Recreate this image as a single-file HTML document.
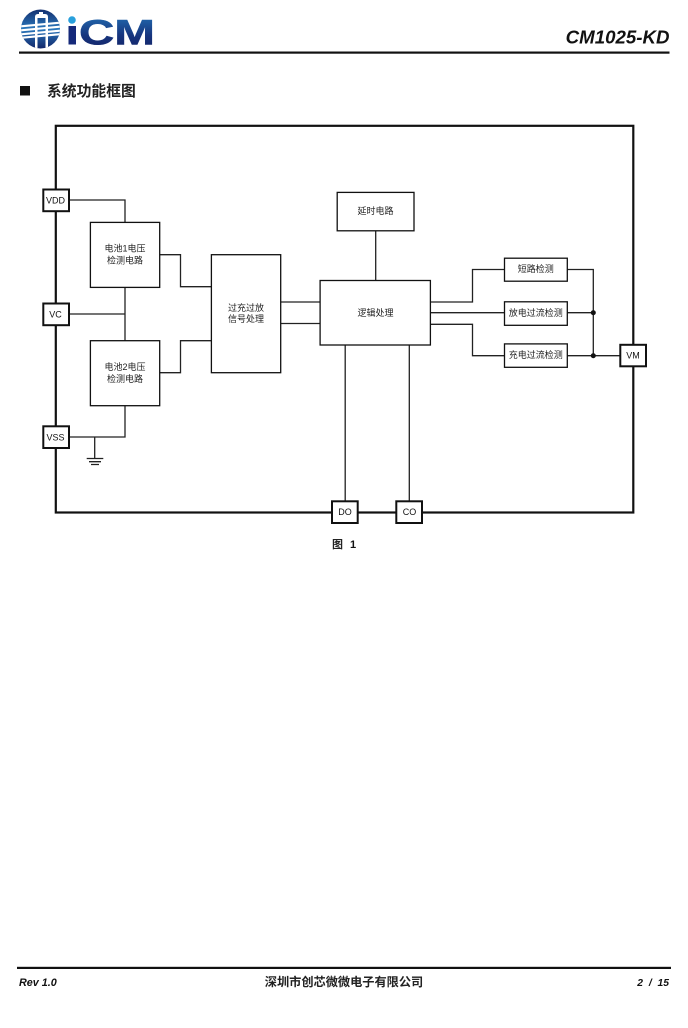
<!DOCTYPE html>
<html>
<head>
<meta charset="utf-8">
<style>
html,body{margin:0;padding:0;background:#fff;width:688px;height:1028px;overflow:hidden}
svg{display:block}
text{font-family:"Liberation Sans","Noto Sans CJK SC",sans-serif}
.l{font-size:9px;fill:#222;text-anchor:middle}
.p{font-size:9px;fill:#111;text-anchor:middle}
.b{fill:#fff;stroke:#111;stroke-width:1.3}
.pin{fill:#fff;stroke:#111;stroke-width:2}
.w{fill:none;stroke:#222;stroke-width:1.3}
</style>
</head>
<body>
<svg width="688" height="1028" viewBox="0 0 688 1028" xmlns="http://www.w3.org/2000/svg">
<defs>
<linearGradient id="g" x1="0" y1="0" x2="0" y2="1">
<stop offset="0" stop-color="#14306f"/>
<stop offset=".5" stop-color="#2a78bd"/>
<stop offset="1" stop-color="#12276a"/>
</linearGradient>
<linearGradient id="t" x1="0" y1="0" x2="0" y2="1">
<stop offset="0" stop-color="#2370b4"/>
<stop offset=".55" stop-color="#17367f"/>
<stop offset="1" stop-color="#121f63"/>
</linearGradient>
<clipPath id="c"><circle cx="40.500" cy="29" r="19.500"/></clipPath>
</defs>

<!-- logo -->
<circle cx="40.500" cy="29" r="19.500" fill="url(#g)"/>
<g clip-path="url(#c)">
<path d="M35 49V17q0-3 3-3h1v-2h4v2h2q3 0 3 3v32h-2.500V18H37.500v31z" fill="#fff"/>
<g stroke="#fff" stroke-width="2" fill="none">
<path d="M19 26.500L62 22.500"/><path d="M19 30.500L62 26.500"/><path d="M19 34.500L62 30.500"/><path d="M19 38L62 34"/>
</g>
</g>
<circle cx="72" cy="20" r="3.800" fill="#29a0dc"/>
<rect x="68.500" y="26" width="7.500" height="18.500" fill="#15297a"/>
<text x="79" y="44.500" font-size="35" font-weight="bold" textLength="76" lengthAdjust="spacingAndGlyphs" fill="url(#t)" stroke="url(#t)" stroke-width=".6">CM</text>

<!-- header -->
<text x="669.500" y="43.500" font-size="18.700" font-weight="bold" font-style="italic" text-anchor="end" fill="#111">CM1025-KD</text>
<rect x="19" y="51.500" width="650.500" height="2.200" fill="#111"/>

<!-- title -->
<rect x="20" y="86" width="10" height="9.500" fill="#111"/>
<text x="47" y="96" font-size="14.800" font-weight="bold" fill="#222">系统功能框图</text>

<!-- frame -->
<rect x="55.800" y="125.800" width="577.500" height="386.700" fill="none" stroke="#111" stroke-width="2.200"/>

<!-- wires -->
<path class="w" d="M69 200H125V222M69 314H125M125 287.500V341M69 437H125V405.500"/>
<path class="w" d="M160 254.700H180.500V286.700H211M160 372.700H180.500V340.700H211"/>
<path class="w" d="M281 302H320M281 323.500H320M375.700 231V280.500"/>
<path class="w" d="M430 302H472.500V269.500H504.500M430 312.700H504.500M430 324.300H472.500V355.700H504.500"/>
<path class="w" d="M567 269.500H593.300V355.700M567 312.700H593.300M567 355.700H620"/>
<path class="w" d="M345.200 345V501M409.300 345V501"/>
<circle cx="593.300" cy="312.700" r="2.500" fill="#111"/>
<circle cx="593.300" cy="355.700" r="2.500" fill="#111"/>
<!-- ground -->
<path class="w" d="M94.700 437V458.500M86.700 458.500H103.300M89 461.700H101M91 464.500H99"/>

<!-- boxes -->
<rect class="b" x="90.400" y="222.400" width="69.300" height="65"/>
<rect class="b" x="90.400" y="340.700" width="69.300" height="65"/>
<rect class="b" x="211.400" y="254.700" width="69.300" height="118"/>
<rect class="b" x="320.100" y="280.500" width="110.300" height="64.500"/>
<rect class="b" x="337.200" y="192.400" width="76.800" height="38.400"/>
<rect class="b" x="504.500" y="258.200" width="62.800" height="23"/>
<rect class="b" x="504.500" y="301.800" width="62.800" height="23.500"/>
<rect class="b" x="504.500" y="343.900" width="62.800" height="23.400"/>

<!-- pins -->
<rect class="pin" x="43.300" y="189.500" width="25.700" height="21.700"/>
<rect class="pin" x="43.300" y="303.500" width="25.700" height="21.700"/>
<rect class="pin" x="43.300" y="426.300" width="25.700" height="21.700"/>
<rect class="pin" x="620.300" y="344.800" width="25.700" height="21.500"/>
<rect class="pin" x="332" y="501.300" width="25.700" height="21.700"/>
<rect class="pin" x="396.300" y="501.300" width="25.700" height="21.700"/>

<text class="p" x="55.500" y="203.500">VDD</text>
<text class="p" x="55.500" y="317.500">VC</text>
<text class="p" x="55.500" y="440.500">VSS</text>
<text class="p" x="633" y="358.500">VM</text>
<text class="p" x="345" y="515">DO</text>
<text class="p" x="409.500" y="515">CO</text>

<!-- labels -->
<text class="l" x="125" y="251.500">电池1电压</text>
<text class="l" x="125" y="263.500">检测电路</text>
<text class="l" x="125" y="370">电池2电压</text>
<text class="l" x="125" y="382">检测电路</text>
<text class="l" x="246" y="311">过充过放</text>
<text class="l" x="246" y="322">信号处理</text>
<text class="l" x="375.500" y="316">逻辑处理</text>
<text class="l" x="375.500" y="214">延时电路</text>
<text class="l" x="535.800" y="272">短路检测</text>
<text class="l" x="535.800" y="316">放电过流检测</text>
<text class="l" x="535.800" y="358">充电过流检测</text>

<!-- caption -->
<text x="332" y="548" font-size="11" font-weight="bold" fill="#222">图</text>
<text x="350" y="548" font-size="11" font-weight="bold" fill="#111">1</text>

<!-- footer -->
<rect x="17" y="966.800" width="654" height="2.200" fill="#111"/>
<text x="19" y="986" font-size="10.800" font-weight="bold" font-style="italic" fill="#111">Rev 1.0</text>
<text x="344" y="986" font-size="12.200" font-weight="bold" text-anchor="middle" fill="#222">深圳市创芯微微电子有限公司</text>
<text x="669" y="986" font-size="10.300" font-weight="bold" font-style="italic" text-anchor="end" fill="#111" word-spacing="3">2 / 15</text>
</svg>
</body>
</html>
